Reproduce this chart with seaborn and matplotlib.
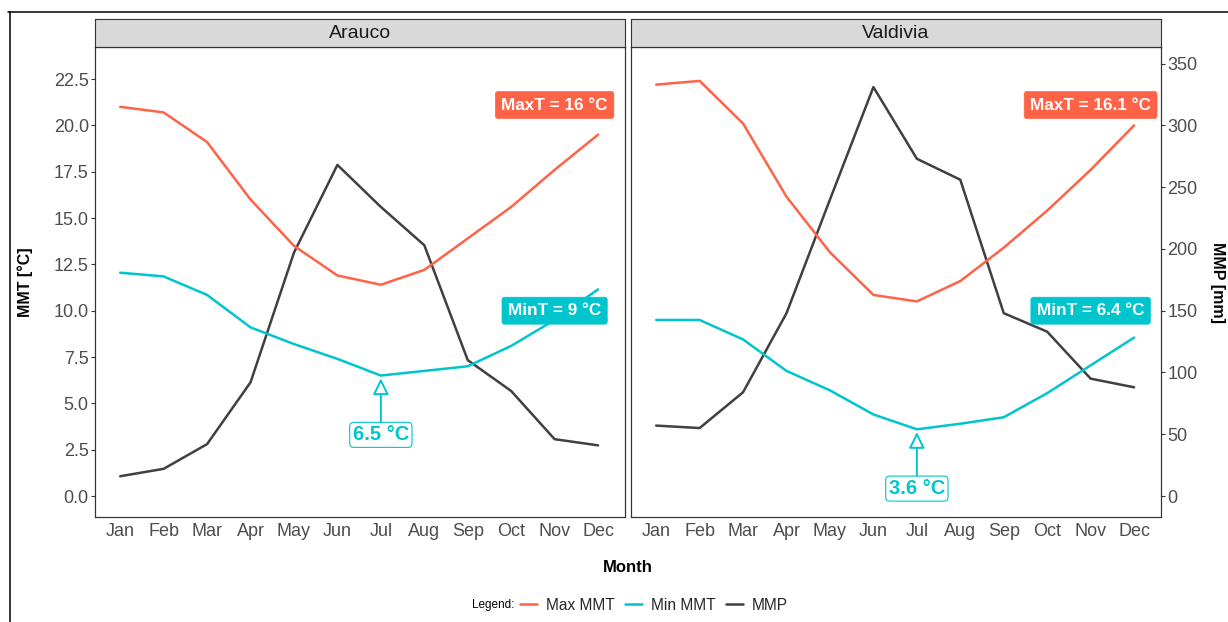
import numpy as np
import pandas as pd
import matplotlib
matplotlib.use("Agg")
import matplotlib.pyplot as plt
from matplotlib.lines import Line2D
import seaborn as sns

# ---- data -------------------------------------------------------------
months = ["Jan", "Feb", "Mar", "Apr", "May", "Jun",
          "Jul", "Aug", "Sep", "Oct", "Nov", "Dec"]
sites = ["Arauco", "Valdivia"]

# mean monthly max / min temperature (°C) and mean monthly precipitation (mm)
arauco_max = [21.0, 20.7, 19.1, 16.0, 13.5, 11.9, 11.4, 12.2, 13.9, 15.6, 17.6, 19.5]
arauco_min = [12.05, 11.85, 10.85, 9.1, 8.2, 7.4, 6.5, 6.75, 7.0, 8.1, 9.5, 11.15]
arauco_mmp = [16, 22, 42, 92, 197, 268, 234, 203, 110, 85, 46, 41]

valdivia_max = [22.2, 22.4, 20.1, 16.15, 13.15, 10.85, 10.5, 11.6, 13.4, 15.4, 17.6, 20.0]
valdivia_min = [9.5, 9.5, 8.45, 6.75, 5.7, 4.4, 3.6, 3.9, 4.25, 5.55, 7.05, 8.55]
valdivia_mmp = [57, 55, 84, 148, 240, 331, 273, 256, 148, 133, 95, 88]

series_names = ["Max MMT", "Min MMT", "MMP"]
site_data = {
    "Arauco": (arauco_max, arauco_min, arauco_mmp),
    "Valdivia": (valdivia_max, valdivia_min, valdivia_mmp),
}

# ---- style ------------------------------------------------------------
RED = "#FF6347"
CYAN = "#00C5CD"
DARK = "#404040"
palette = {"Max MMT": RED, "Min MMT": CYAN, "MMP": DARK}

sns.set_style("white")
plt.rcParams["font.family"] = ["Liberation Sans", "DejaVu Sans"]

W, H = 1228, 622
fig = plt.figure(figsize=(W / 100, H / 100), dpi=100)


def px_axes(x0, y0, x1, y1, **kw):
    return fig.add_axes([x0 / W, 1 - y1 / H, (x1 - x0) / W, (y1 - y0) / H], **kw)


T_LO, T_HI = -1.133, 24.23   # temperature axis limits
MM_PER_DEG = 15              # secondary axis scale
X_LO, X_HI = -0.58, 11.62

panel_boxes = [(95, 47, 625, 517), (631, 47, 1161, 517)]
strip_boxes = [(95, 19, 625, 47), (631, 19, 1161, 47)]

tick_kw = dict(direction="out", length=3, width=0.8, color="#333333",
               labelcolor="#4D4D4D", labelsize=13, pad=1.5)

for i, site in enumerate(sites):
    tmax, tmin, mmp = site_data[site]
    idx = np.arange(len(months))

    temp_df = pd.DataFrame({
        "month": np.concatenate([idx, idx]),
        "value": np.concatenate([tmax, tmin]),
        "series": ["Max MMT"] * len(idx) + ["Min MMT"] * len(idx),
    })
    prec_df = pd.DataFrame({"month": idx, "mmp": mmp, "series": "MMP"})

    ax = px_axes(*panel_boxes[i])
    tw = ax.twinx()
    ax.set_zorder(tw.get_zorder() + 1)
    ax.patch.set_visible(False)

    sns.lineplot(data=prec_df, x="month", y="mmp", color=DARK, linewidth=1.8,
                 ax=tw, legend=False)
    sns.lineplot(data=temp_df, x="month", y="value", hue="series",
                 palette=palette, linewidth=1.8, ax=ax, legend=False)

    ax.set_xlim(X_LO, X_HI)
    ax.set_ylim(T_LO, T_HI)
    tw.set_ylim(T_LO * MM_PER_DEG, T_HI * MM_PER_DEG)

    ax.set_xticks(idx)
    ax.set_xticklabels(months)
    ax.set_yticks(np.arange(0, 22.6, 2.5))
    ax.set_xlabel("")
    ax.set_ylabel("")
    tw.set_ylabel("")
    ax.tick_params(axis="x", **tick_kw)
    ax.tick_params(axis="y", **tick_kw)
    tw.tick_params(axis="y", **tick_kw)
    tw.set_yticks(np.arange(0, 351, 50))

    if i == 0:
        ax.set_yticklabels([f"{v:.1f}" for v in np.arange(0, 22.6, 2.5)])
        tw.tick_params(axis="y", right=False, labelright=False)
    else:
        ax.tick_params(axis="y", left=False, labelleft=False)

    for a in (ax, tw):
        for sp in a.spines.values():
            sp.set_color("#333333")
            sp.set_linewidth(0.8)

    # summary labels
    mean_max = round(float(np.mean(tmax)), 1)
    mean_min = round(float(np.mean(tmin)), 1)
    ax.text(10, 21.1, f"MaxT = {mean_max:g} °C", ha="center", va="center",
            color="white", fontweight="bold", fontsize=12.3, zorder=5,
            bbox=dict(boxstyle="round,pad=0.35,rounding_size=0.15",
                      fc=RED, ec=RED, lw=0.5))
    ax.text(10, 10.0, f"MinT = {mean_min:g} °C", ha="center", va="center",
            color="white", fontweight="bold", fontsize=12.3, zorder=5,
            bbox=dict(boxstyle="round,pad=0.35,rounding_size=0.15",
                      fc=CYAN, ec=CYAN, lw=0.5))

    # lowest minimum, pointed out with an arrow
    k = int(np.argmin(tmin))
    ax.annotate(f"{tmin[k]:.1f} °C", xy=(idx[k], tmin[k] - 0.15),
                xytext=(idx[k], tmin[k] - 3.2), ha="center", va="center",
                color=CYAN, fontweight="bold", fontsize=14.5, zorder=5,
                bbox=dict(boxstyle="round,pad=0.15,rounding_size=0.2",
                          fc="white", ec=CYAN, lw=0.8),
                arrowprops=dict(arrowstyle="-|>,head_length=0.65,head_width=0.32",
                                ec=CYAN, fc="white", lw=1.4,
                                mutation_scale=15, shrinkA=0, shrinkB=0))

    # facet strip
    st = px_axes(*strip_boxes[i])
    st.set_facecolor("#D9D9D9")
    st.set_xticks([])
    st.set_yticks([])
    for sp in st.spines.values():
        sp.set_color("#333333")
        sp.set_linewidth(0.8)
    st.text(0.5, 0.5, site, ha="center", va="center", fontsize=14,
            color="#1A1A1A", transform=st.transAxes)

# axis titles
fig.text(25 / W, 1 - 282 / H, "MMT [°C]", rotation=90, ha="center", va="center",
         fontsize=11.5, fontweight="bold", color="black")
fig.text(1217 / W, 1 - 282 / H, "MMP [mm]", rotation=270, ha="center", va="center",
         fontsize=11.5, fontweight="bold", color="black")
fig.text(628 / W, 1 - 567 / H, "Month", ha="center", va="center",
         fontsize=12, fontweight="bold", color="black")

# legend
handles = [Line2D([], [], color=palette[s], lw=1.8) for s in series_names]
fig.text(472 / W, 1 - 605 / H, "Legend:", ha="left", va="center", fontsize=8.5,
         color="black")
fig.legend(handles, series_names, loc="center", bbox_to_anchor=(654 / W, 1 - 605 / H),
           ncol=3, frameon=False, fontsize=11.2, handlelength=1.1, handletextpad=0.55,
           columnspacing=0.7, borderaxespad=0, borderpad=0)

# outer frame
fig.add_artist(Line2D([8 / W, 1], [1 - 12 / H, 1 - 12 / H], color="black", lw=1.1,
                      transform=fig.transFigure))
fig.add_artist(Line2D([10 / W, 10 / W], [0, 1 - 12 / H], color="black", lw=1.1,
                      transform=fig.transFigure))

fig.savefig("out.png", dpi=100)
